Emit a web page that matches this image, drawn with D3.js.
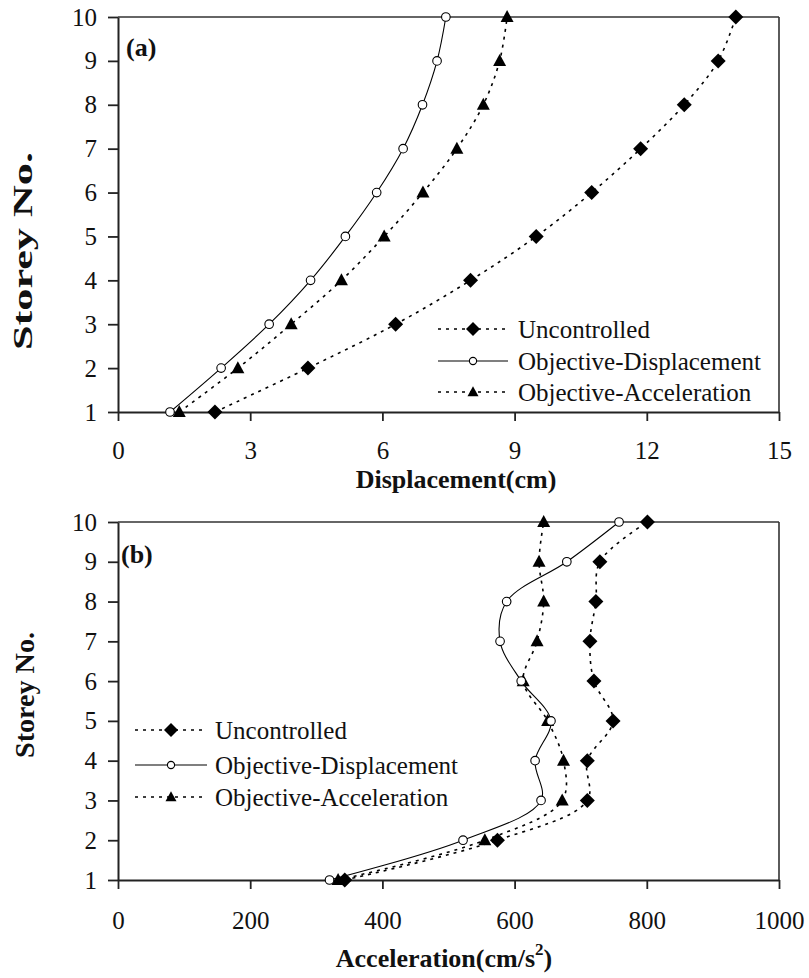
<!DOCTYPE html>
<html>
<head>
<meta charset="utf-8">
<script src="https://cdn.jsdelivr.net/npm/d3@7"></script>
<style>
  html, body { margin: 0; padding: 0; background: #fff; }
  svg { display: block; }
  text { font-family: "Liberation Serif", "Times New Roman", serif; fill: #111; }
</style>
</head>
<body>
<svg id="chart" width="809" height="978"></svg>
<script>
// Storey levels (shared by both panels)
const storeys = [1, 2, 3, 4, 5, 6, 7, 8, 9, 10];

// Panel (a): peak storey displacement, cm
const dispUncontrolled = [2.20, 4.31, 6.30, 8.00, 9.49, 10.75, 11.86, 12.85, 13.62, 14.02];
const dispObjDisplacement = [1.18, 2.34, 3.43, 4.37, 5.16, 5.87, 6.47, 6.91, 7.24, 7.44];
const dispObjAcceleration = [1.39, 2.72, 3.93, 5.07, 6.04, 6.92, 7.69, 8.29, 8.66, 8.83];

// Panel (b): peak storey acceleration, cm/s^2
const accUncontrolled = [343, 574, 710, 710, 749, 720, 714, 723, 729, 801];
const accObjDisplacement = [320, 522, 640, 631, 655, 610, 578, 588, 679, 758];
const accObjAcceleration = [333, 555, 672, 674, 650, 613, 634, 644, 637, 644];

// Axis ticks
const dispTicks = [0, 3, 6, 9, 12, 15];
const accTicks = [0, 200, 400, 600, 800, 1000];
const storeyTicks = [1, 2, 3, 4, 5, 6, 7, 8, 9, 10];

const seriesNames = ["Uncontrolled", "Objective-Displacement", "Objective-Acceleration"];

const svg = d3.select("#chart");

// marker shapes
function diamondPath(r) { return `M0,${-r}L${r},0L0,${r}L${-r},0Z`; }
function trianglePath(w, h) { return `M0,${-h * 0.58}L${w / 2},${h * 0.42}L${-w / 2},${h * 0.42}Z`; }

const styles = [
  { dash: "3,5", marker: "diamond" },
  { dash: null, marker: "circle" },
  { dash: "3,5", marker: "triangle" }
];

function drawMarker(g, kind, x, y, big) {
  if (kind === "diamond") {
    g.append("path").attr("d", diamondPath(big ? 7.5 : 7))
      .attr("transform", `translate(${x},${y})`).attr("fill", "#000");
  } else if (kind === "circle") {
    g.append("circle").attr("cx", x).attr("cy", y).attr("r", big ? 4.3 : 3.6)
      .attr("fill", "#fff").attr("stroke", "#000").attr("stroke-width", 1.1);
  } else {
    g.append("path").attr("d", trianglePath(big ? 13 : 11, big ? 12 : 10))
      .attr("transform", `translate(${x},${y})`).attr("fill", "#000");
  }
}

function panel(cfg) {
  const g = svg.append("g");
  const x = d3.scaleLinear().domain(cfg.xDomain).range([cfg.left, cfg.right]);
  const y = d3.scaleLinear().domain([1, 10]).range([cfg.bottom, cfg.top]);

  // frame: top and right borders
  g.append("line").attr("x1", cfg.left).attr("x2", cfg.right)
    .attr("y1", cfg.top).attr("y2", cfg.top)
    .attr("stroke", "#333").attr("stroke-width", 1.6);
  g.append("line").attr("x1", cfg.right).attr("x2", cfg.right)
    .attr("y1", cfg.top).attr("y2", cfg.bottom)
    .attr("stroke", "#333").attr("stroke-width", 1.6);

  // y axis
  const ya = g.append("g").attr("transform", `translate(${cfg.left},0)`)
    .call(d3.axisLeft(y).tickValues(storeyTicks).tickSize(10).tickSizeOuter(0).tickPadding(11)
      .tickFormat(d3.format("d")));
  ya.select(".domain").attr("stroke", "#222").attr("stroke-width", 2);
  ya.selectAll(".tick line").attr("stroke", "#222").attr("stroke-width", 1.8);
  ya.selectAll(".tick text").attr("font-size", 25).attr("fill", "#111")
    .attr("font-family", "Liberation Serif");

  // x axis
  const xa = g.append("g").attr("transform", `translate(0,${cfg.bottom})`)
    .call(d3.axisBottom(x).tickValues(cfg.xTicks).tickSize(9).tickSizeOuter(0)
      .tickPadding(cfg.xPad).tickFormat(d3.format("d")));
  xa.select(".domain").attr("stroke", "#222").attr("stroke-width", 2);
  xa.selectAll(".tick line").attr("stroke", "#222").attr("stroke-width", 1.8);
  xa.selectAll(".tick text").attr("font-size", 25).attr("fill", "#111")
    .attr("font-family", "Liberation Serif");

  // series
  const line = d3.line().curve(d3.curveCatmullRom.alpha(0.5))
    .x(d => x(d[0])).y(d => y(d[1]));
  cfg.series.forEach((vals, i) => {
    const pts = vals.map((v, k) => [v, storeys[k]]);
    const st = styles[i];
    g.append("path").datum(pts).attr("d", line)
      .attr("fill", "none").attr("stroke", "#000").attr("stroke-width", st.dash ? 1.6 : 1.1)
      .attr("stroke-dasharray", st.dash);
  });
  // markers on top of the lines; diamonds first
  [0, 2, 1].forEach(i => {
    const vals = cfg.series[i];
    vals.forEach((v, k) => drawMarker(g, styles[i].marker, x(v), y(storeys[k]), true));
  });

  // panel label
  g.append("text").attr("x", cfg.tagX).attr("y", cfg.tagY)
    .attr("font-size", 26).attr("font-weight", "bold").text(cfg.tag);

  // x title
  const xt = g.append("text").attr("x", cfg.xTitleX).attr("y", cfg.xTitleY)
    .attr("text-anchor", "middle").attr("font-size", 26).attr("font-weight", "bold");
  cfg.xTitle(xt);

  // y title
  g.append("text")
    .attr("transform", `translate(${cfg.yTitleX},${cfg.yTitleY}) rotate(-90)`)
    .attr("text-anchor", "middle").attr("font-size", 27).attr("font-weight", "bold")
    .attr("textLength", cfg.yTitleLen).attr("lengthAdjust", "spacingAndGlyphs")
    .text("Storey No.");

  // legend
  const lg = g.append("g");
  seriesNames.forEach((name, i) => {
    const ry = cfg.legendRows[i];
    const st = styles[i];
    lg.append("line").attr("x1", cfg.legendX0).attr("x2", cfg.legendX1)
      .attr("y1", ry).attr("y2", ry)
      .attr("stroke", "#000").attr("stroke-width", st.dash ? 1.6 : 1.1)
      .attr("stroke-dasharray", st.dash);
    drawMarker(lg, st.marker, (cfg.legendX0 + cfg.legendX1) / 2, ry, false);
    lg.append("text").attr("x", cfg.legendText).attr("y", ry).attr("dy", "0.34em")
      .attr("font-size", 25).text(name);
  });
}

panel({
  xDomain: [0, 15], xTicks: dispTicks,
  left: 118, right: 779, top: 17, bottom: 412, xPad: 20,
  series: [dispUncontrolled, dispObjDisplacement, dispObjAcceleration],
  tag: "(a)", tagX: 126, tagY: 56,
  xTitleX: 456, xTitleY: 488,
  xTitle: t => t.text("Displacement(cm)"),
  yTitleX: 32, yTitleY: 251, yTitleLen: 198,
  legendX0: 438, legendX1: 508, legendText: 518,
  legendRows: [329, 361, 392]
});

panel({
  xDomain: [0, 1000], xTicks: accTicks,
  left: 118, right: 779, top: 522, bottom: 880, xPad: 22,
  series: [accUncontrolled, accObjDisplacement, accObjAcceleration],
  tag: "(b)", tagX: 121, tagY: 563,
  xTitleX: 444, xTitleY: 967,
  xTitle: t => {
    t.append("tspan").text("Acceleration(cm/s");
    t.append("tspan").attr("font-size", 17).attr("dy", -12).text("2");
    t.append("tspan").attr("dy", 12).text(")");
  },
  yTitleX: 34, yTitleY: 695, yTitleLen: 126,
  legendX0: 135, legendX1: 207, legendText: 215,
  legendRows: [730, 765, 797]
});
</script>
</body>
</html>
